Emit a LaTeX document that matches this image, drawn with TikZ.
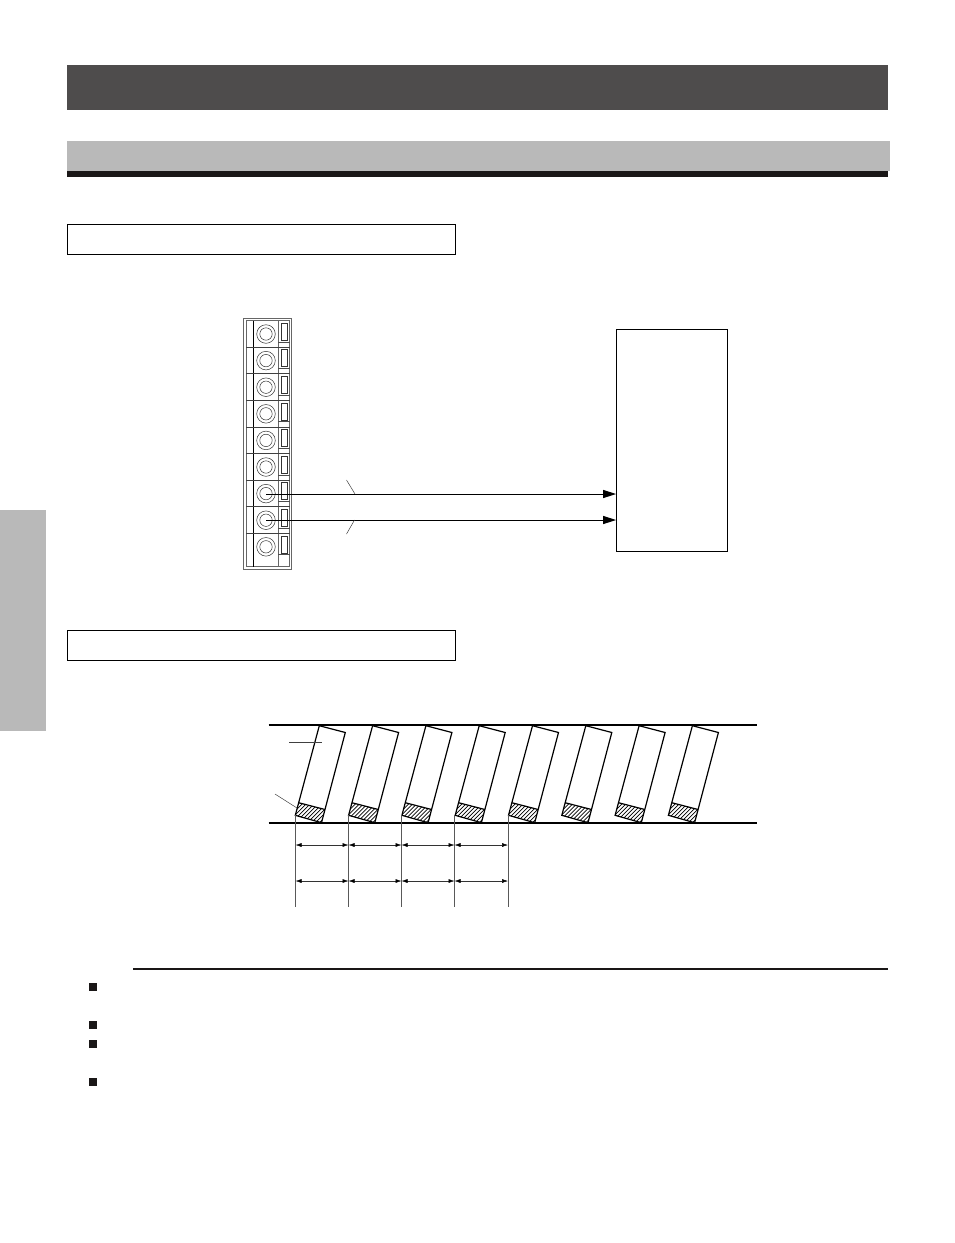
\documentclass[tikz,border=0pt]{standalone}
\usetikzlibrary{arrows.meta}
\definecolor{darkbar}{HTML}{4E4C4C}
\definecolor{lightbar}{HTML}{B9B9B9}
\definecolor{inkk}{HTML}{1A1717}
\tikzset{
  thinln/.style={line width=0.7pt,draw=black},
  medln/.style={line width=1.2pt,draw=black},
  hairln/.style={line width=0.5pt,draw=black!75},
  titlebox/.style={line width=0.8pt,draw=black,fill=white},
  sigarrow/.style={line width=1pt,draw=black,-{Triangle[length=13pt,width=8pt]}},
  dimarrow/.style={line width=0.5pt,draw=black!80,{Latex[length=6pt,width=4pt,black]}-{Latex[length=6pt,width=4pt,black]}},
  bullet/.style={fill=inkk,draw=none}
}
\begin{document}
\begin{tikzpicture}[x=1pt,y=-1pt]
\useasboundingbox (0,0) rectangle (954,1243);
% bars
\fill[darkbar] (67,65) rectangle (888,110);
\fill[lightbar] (67,141) rectangle (890,171);
\fill[inkk] (67,171) rectangle (888,177);
\fill[lightbar] (0,510) rectangle (45.5,731);
\draw[titlebox] (67.5,224.5) rectangle (455.5,254.5);
\draw[titlebox] (67.5,630.5) rectangle (455.5,660.5);
% terminal block
\draw[line width=0.7pt,draw=black!60] (243.5,318) rectangle (291.5,569.5);
\draw[line width=0.7pt,draw=black!60] (246,320.5) -- (289.5,320.5) (246,320.5) -- (246,566.5) -- (289.5,566.5) (289.5,320.5) -- (289.5,566.5) (278,320.5) -- (278,566.5);
\draw[thinln] (253.5,320.5) -- (253.5,566.5);
\foreach \i in {0,...,8}{
  \pgfmathsetmacro{\cy}{334+\i*26.6}
  \draw[line width=0.5pt,draw=black!80] (266,\cy) circle (9.3);
  \draw[line width=0.5pt,draw=black!80] (266,\cy) circle (6.2);
  \draw[line width=0.5pt,draw=black!80] (281,\cy-11) rectangle (287,\cy+6);
  \draw[line width=0.7pt,draw=black!70] (278,\cy+8) -- (289.5,\cy+8);
}
\foreach \i in {1,...,8}{
  \pgfmathsetmacro{\ly}{320.4+\i*26.6}
  \draw[line width=0.6pt,draw=black!75] (246,\ly) -- (289.5,\ly);
}
% receiver box
\node[draw=black,line width=0.8pt,inner sep=0pt,fill=white] (rx) at (672,440) {\tikz{\path (0,0) rectangle (111pt,222pt);}};
\coordinate (t1) at (266,494);
\coordinate (t2) at (266,520);
\coordinate (r1) at (rx.west |- t1);
\coordinate (r2) at (rx.west |- t2);
\draw[sigarrow] (t1) -- (r1);
\draw[sigarrow] (t2) -- (r2);
\draw[hairln] (346.5,480) -- (355,494);
\draw[hairln] (354.5,520) -- (346.5,534);
% roller bands
\draw[medln] (268.5,725) -- (757,725);
\draw[medln] (268.5,823) -- (757,823);
\foreach \i in {0,...,7}{
  \begin{scope}[xshift=\i*53.3pt]
    \begin{scope}
      \clip (295.3,815.3) -- (299,802.8) -- (325,809.5) -- (321.5,822.7) -- cycle;
      \foreach \k in {-6,...,9}{
        \draw[line width=0.7pt] (292+\k*4,826) -- (318+\k*4,800);
      }
    \end{scope}
    \draw[medln,line join=miter] (319.3,725.7) -- (345.3,732.5) -- (321.5,822.7) -- (295.3,815.3) -- cycle;
    \draw[medln] (299,802.8) -- (325,809.5);
  \end{scope}
}
\draw[hairln] (289,742) -- (322,742);
\draw[hairln] (275,794) -- (297,808);
% dimensions
\foreach \x in {295.5,348.5,401.5,454.5,508}{
  \draw[line width=0.5pt,draw=black!65] (\x,815) -- (\x,907);
}
\foreach \a/\b in {295.5/348.5,348.5/401.5,401.5/454.5,454.5/508}{
  \draw[dimarrow] (\a,845) -- (\b,845);
  \draw[dimarrow] (\a,881) -- (\b,881);
}
% notes
\fill[inkk] (133,968) rectangle (888,970);
\foreach \y in {987,1025,1044,1082}{
  \fill[bullet] (89,\y-3.7) rectangle (96.5,\y+3.7);
}
\end{tikzpicture}
\end{document}
